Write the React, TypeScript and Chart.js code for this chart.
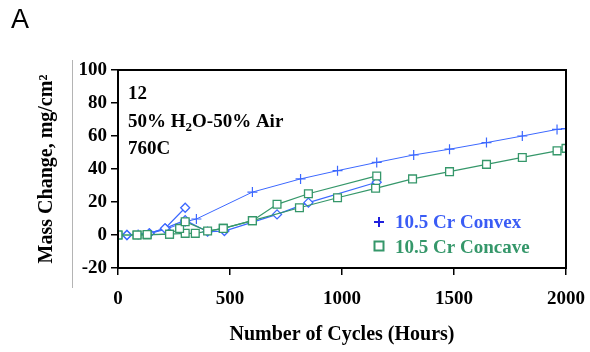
import React, { useEffect, useRef } from "react";
import { Chart, registerables } from "chart.js";

Chart.register(...registerables);

// ---- Data ----
const convexLabel = "10.5 Cr Convex";
const convexHours = [0, 40, 90, 140, 215, 300, 350, 600, 815, 980, 1155, 1320, 1480, 1645, 1805, 1960, 2000];
const convexMass = [0, 0, 0.3, 0.8, 3.5, 8, 9.7, 26, 34, 39, 44, 48.5, 52, 56, 60, 64, 64.5];

const concaveLabel = "10.5 Cr Concave";
const concaveHours = [0, 85, 130, 230, 300, 345, 470, 600, 810, 980, 1150, 1315, 1480, 1645, 1805, 1960, 2000];
const concaveMass = [0, 0, 0, 0.5, 1, 1, 4, 8.7, 16.5, 22.6, 28.3, 34, 38.4, 42.8, 47, 51, 52.5];

const concave2Hours = [0, 85, 130, 230, 275, 300, 400, 470, 600, 710, 850, 1155];
const concave2Mass = [0, 0, 0.3, 0.5, 4, 8, 2.4, 4, 8.7, 18.6, 25, 35.8];

const diamondAHours = [0, 40, 140, 210, 300];
const diamondAMass = [0, 0, 1, 4, 16.5];

const diamondBHours = [0, 40, 140, 210, 300, 400, 475, 710, 850, 1155];
const diamondBMass = [0, 0, 1, 4, 9, 2, 2.4, 12.5, 19.6, 32];

const xTicks = [0, 500, 1000, 1500, 2000];
const yTicks = [-20, 0, 20, 40, 60, 80, 100];

const annotationLines = ["12", "50% H|2|O-50% Air", "760C"];
const panelLetter = "A";

const BLUE = "#3c68ff";
const BLUE_TEXT = "#3a5cf5";
const BLUE_DARK = "#2020dd";
const GREEN = "#35976a";
const SERIF = "'Liberation Serif', 'Times New Roman', serif";

const pts = (xs: number[], ys: number[]) => xs.map((x, i) => ({ x, y: ys[i] }));

const decorPlugin = {
  id: "decor",
  afterDraw(chart: any) {
    const { ctx, chartArea } = chart;
    const { left, right, top, bottom } = chartArea;
    ctx.save();
    // frame
    ctx.strokeStyle = "#000";
    ctx.lineWidth = 2;
    ctx.strokeRect(left, top, right - left, bottom - top);
    // thin gray vertical line
    ctx.strokeStyle = "#b4b4b4";
    ctx.lineWidth = 1;
    ctx.beginPath();
    ctx.moveTo(72.5, 60);
    ctx.lineTo(72.5, 288);
    ctx.stroke();
    // panel letter
    ctx.fillStyle = "#000";
    ctx.font = "27px 'Liberation Sans', Arial, sans-serif";
    ctx.textBaseline = "alphabetic";
    ctx.textAlign = "left";
    ctx.fillText(panelLetter, 11, 28);
    // annotations
    const fs = 19;
    const baselines = [99, 127, 154];
    annotationLines.forEach((line, i) => {
      const parts = line.split("|");
      let x = left + 10;
      const y = baselines[i];
      parts.forEach((p, j) => {
        const isSub = j % 2 === 1;
        ctx.font = `bold ${isSub ? 13 : fs}px ${SERIF}`;
        ctx.fillText(p, x, y + (isSub ? 4 : 0));
        x += ctx.measureText(p).width;
      });
    });
    // legend
    const items = [
      { label: chart.data.datasets[4].label, color: BLUE_TEXT, marker: "cross", y: 228 },
      { label: chart.data.datasets[1].label, color: GREEN, marker: "rect", y: 253 },
    ];
    items.forEach((it) => {
      const my = it.y - 6;
      const mx = 379;
      if (it.marker === "cross") {
        ctx.strokeStyle = BLUE_DARK;
        ctx.lineWidth = 2;
        ctx.beginPath();
        ctx.moveTo(mx - 5, my);
        ctx.lineTo(mx + 5, my);
        ctx.moveTo(mx, my - 5);
        ctx.lineTo(mx, my + 5);
        ctx.stroke();
      } else {
        ctx.strokeStyle = GREEN;
        ctx.lineWidth = 2;
        ctx.strokeRect(mx - 4.5, my - 5.5, 9, 9);
      }
      ctx.fillStyle = it.color;
      ctx.font = `bold ${fs}px ${SERIF}`;
      ctx.fillText(it.label, 395, it.y);
    });
    ctx.restore();
  },
};

export default function App() {
  const ref = useRef<HTMLCanvasElement | null>(null);
  useEffect(() => {
    if (!ref.current) return;
    const font = { family: SERIF, weight: "bold" as const, size: 19 };
    const chart = new Chart(ref.current, {
      type: "scatter",
      data: {
        datasets: [
          {
            label: "Concave 2",
            data: pts(concave2Hours, concave2Mass),
            showLine: true,
            borderColor: GREEN,
            backgroundColor: "#fff",
            borderWidth: 1.2,
            pointStyle: "rect",
            pointRadius: 5.5,
            pointBorderWidth: 1.3,
          },
          {
            label: concaveLabel,
            data: pts(concaveHours, concaveMass),
            showLine: true,
            borderColor: GREEN,
            backgroundColor: "#fff",
            borderWidth: 1.2,
            pointStyle: "rect",
            pointRadius: 5.5,
            pointBorderWidth: 1.3,
          },
          {
            label: "Convex A",
            data: pts(diamondAHours, diamondAMass),
            showLine: true,
            borderColor: BLUE,
            backgroundColor: "#fff",
            borderWidth: 1.2,
            pointStyle: "rectRot",
            pointRadius: 4.5,
            pointBorderWidth: 1.3,
          },
          {
            label: "Convex B",
            data: pts(diamondBHours, diamondBMass),
            showLine: true,
            borderColor: BLUE,
            backgroundColor: "#fff",
            borderWidth: 1.2,
            pointStyle: "rectRot",
            pointRadius: 4.5,
            pointBorderWidth: 1.3,
          },
          {
            label: convexLabel,
            data: pts(convexHours, convexMass),
            showLine: true,
            borderColor: BLUE,
            backgroundColor: BLUE,
            borderWidth: 1,
            pointStyle: "cross",
            pointRadius: 5,
            pointBorderWidth: 1.2,
          },
        ],
      },
      options: {
        animation: false,
        responsive: false,
        devicePixelRatio: 1,
        layout: { padding: { top: 70, right: 24, left: 0, bottom: 0 } },
        plugins: { legend: { display: false }, tooltip: { enabled: false } },
        scales: {
          x: {
            type: "linear",
            min: 0,
            max: 2000,
            afterFit: (s: any) => {
              s.height = 84;
              s.paddingRight = 0;
              s.paddingLeft = 0;
            },
            afterBuildTicks: (s: any) => {
              s.ticks = xTicks.map((v) => ({ value: v }));
            },
            border: { display: false },
            grid: { drawOnChartArea: false, drawTicks: true, tickLength: 7, tickColor: "#000", lineWidth: 1.5 },
            ticks: { color: "#000", font, padding: 13, maxRotation: 0, callback: (v: any) => String(v) },
            title: {
              display: true,
              text: "Number of Cycles (Hours)",
              color: "#000",
              font: { family: SERIF, weight: "bold", size: 20 },
              padding: { top: 0, bottom: 5 },
            },
          },
          y: {
            type: "linear",
            min: -20,
            max: 100,
            afterFit: (s: any) => {
              s.width = 118;
            },
            afterBuildTicks: (s: any) => {
              s.ticks = yTicks.map((v) => ({ value: v }));
            },
            border: { display: false },
            grid: { drawOnChartArea: false, drawTicks: true, tickLength: 7, tickColor: "#000", lineWidth: 1.5 },
            ticks: { color: "#000", font, padding: 4, callback: (v: any) => String(v) },
            title: {
              display: true,
              text: "Mass Change, mg/cm²",
              color: "#000",
              font: { family: SERIF, weight: "bold", size: 20 },
              padding: { top: 35, bottom: 0 },
            },
          },
        },
      },
      plugins: [decorPlugin],
    });
    return () => chart.destroy();
  }, []);
  return (
    <div style={{ position: "absolute", left: 0, top: 0, width: 590, height: 352, background: "#fff" }}>
      <canvas ref={ref} width={590} height={352} style={{ display: "block", width: 590, height: 352 }} />
    </div>
  );
}
